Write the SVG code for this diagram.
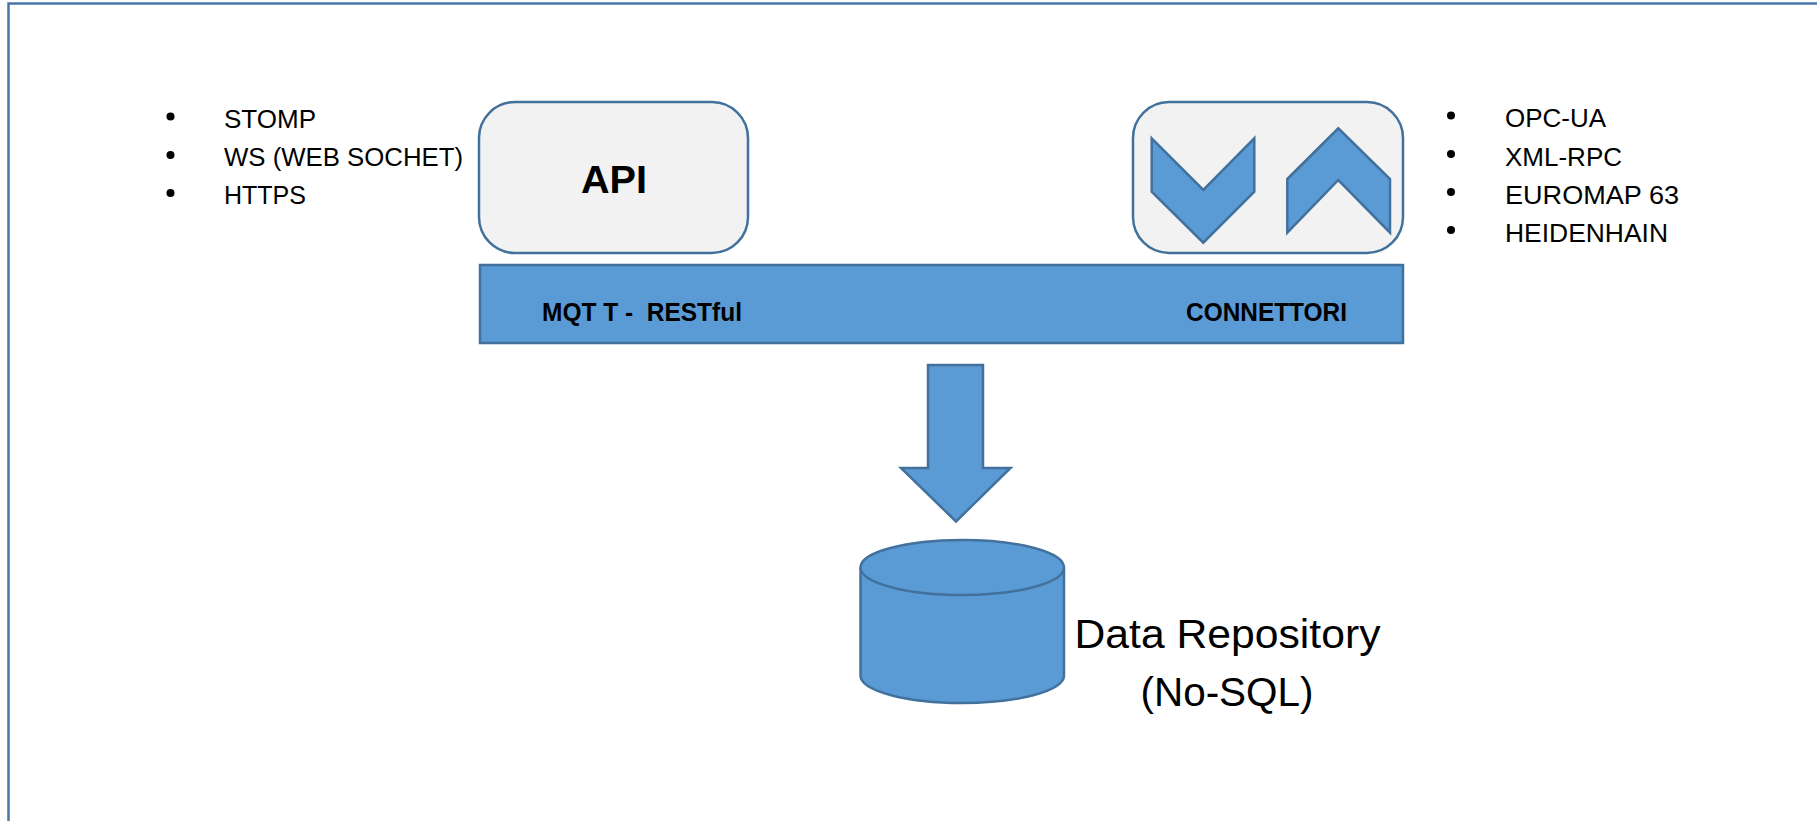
<svg xmlns="http://www.w3.org/2000/svg" width="1817" height="821" viewBox="0 0 1817 821">
  <style>
    .frame { fill: none; stroke: #4a77a8; stroke-width: 2.5; }
    .box { fill: #f2f2f2; stroke: #41719c; stroke-width: 2.5; }
    .blue { fill: #5b9bd5; stroke: #41719c; stroke-width: 2.5; stroke-linejoin: miter; }
    .txt { font-family: "Liberation Sans", Arial, sans-serif; fill: #000; }
    .item { font-size: 26px; }
    .bold { font-weight: bold; }
    .pre { white-space: pre; }
    .dot { fill: #000; }
  </style>

  <rect width="1817" height="821" fill="#ffffff"/>

  <!-- outer slide frame (open to the right and bottom) -->
  <rect class="frame" x="8.5" y="3.5" width="1900" height="900"/>

  <!-- left protocol list -->
  <g id="api-protocols">
    <circle class="dot" cx="170.5" cy="116.5" r="4"/>
    <circle class="dot" cx="170.5" cy="155" r="4"/>
    <circle class="dot" cx="170.5" cy="193" r="4"/>
    <text class="txt item" x="224" y="128" textLength="92" lengthAdjust="spacingAndGlyphs">STOMP</text>
    <text class="txt item" x="224" y="166" textLength="239" lengthAdjust="spacingAndGlyphs">WS (WEB SOCHET)</text>
    <text class="txt item" x="224" y="203.5" textLength="82" lengthAdjust="spacingAndGlyphs">HTTPS</text>
  </g>

  <!-- API box -->
  <g id="api">
    <rect class="box" x="479" y="102" width="269" height="151" rx="36" ry="36"/>
    <text class="txt bold" x="614" y="193" font-size="39" text-anchor="middle" textLength="66" lengthAdjust="spacingAndGlyphs">API</text>
  </g>

  <!-- connectors box with in/out chevrons -->
  <g id="connectors">
    <rect class="box" x="1133" y="102" width="270" height="151" rx="36" ry="36"/>
    <polygon class="blue" points="1151.7,138.3 1203.3,190 1254.3,138.3 1254.3,191.7 1203.3,242.7 1151.7,191.7"/>
    <polygon class="blue" points="1287.3,179 1338.3,128.3 1390,179 1390,232.7 1338.3,180 1287.3,232.7"/>
  </g>

  <!-- right protocol list -->
  <g id="connector-protocols">
    <circle class="dot" cx="1451" cy="115.5" r="4"/>
    <circle class="dot" cx="1451" cy="154" r="4"/>
    <circle class="dot" cx="1451" cy="192" r="4"/>
    <circle class="dot" cx="1451" cy="230" r="4"/>
    <text class="txt item" x="1505" y="127" textLength="101" lengthAdjust="spacingAndGlyphs">OPC-UA</text>
    <text class="txt item" x="1505" y="165.5" textLength="117" lengthAdjust="spacingAndGlyphs">XML-RPC</text>
    <text class="txt item" x="1505" y="203.5" textLength="174" lengthAdjust="spacingAndGlyphs">EUROMAP 63</text>
    <text class="txt item" x="1505" y="241.5" textLength="163" lengthAdjust="spacingAndGlyphs">HEIDENHAIN</text>
  </g>

  <!-- integration bus -->
  <g id="bus">
    <rect class="blue" x="480" y="265" width="923" height="78"/>
    <text class="txt bold pre" x="542" y="321" font-size="25" textLength="200" lengthAdjust="spacingAndGlyphs">MQT T -  RESTful</text>
    <text class="txt bold" x="1186" y="321" font-size="25" textLength="161" lengthAdjust="spacingAndGlyphs">CONNETTORI</text>
  </g>

  <!-- flow from bus to storage -->
  <g id="links">
    <polygon class="blue" points="928,365 983,365 983,468 1010.5,468 956,521.5 901,468 928,468"/>
  </g>

  <!-- data repository cylinder -->
  <g id="repository">
    <path class="blue" d="M860.5,567.5 L860.5,675.5 A101.75,27.5 0 0 0 1064,675.5 L1064,567.5"/>
    <ellipse class="blue" cx="962.25" cy="567.5" rx="101.75" ry="27.5"/>
    <text class="txt" x="1227.5" y="648" font-size="41" text-anchor="middle" textLength="306" lengthAdjust="spacingAndGlyphs">Data Repository</text>
    <text class="txt" x="1227" y="706" font-size="41" text-anchor="middle" textLength="173" lengthAdjust="spacingAndGlyphs">(No-SQL)</text>
  </g>
</svg>
